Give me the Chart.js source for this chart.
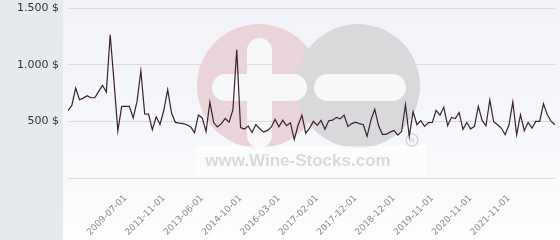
<!DOCTYPE html>
<html><head><meta charset="utf-8">
<script src="https://cdn.jsdelivr.net/npm/chart.js@4/dist/chart.umd.min.js"></script>
<style>
html,body{margin:0;padding:0;width:560px;height:240px;overflow:hidden;}
body{background:linear-gradient(to bottom,#f2f3f8 0%,#f6f7fa 55%,#fdfdfe 100%);position:relative;}
#panel{position:absolute;left:0;top:0;width:63px;height:240px;background:#e6eaed;}
#wrap{position:absolute;left:0;top:0;width:560px;height:240px;}
</style></head><body><div id="panel"></div><div id="wrap"><canvas id="c" width="560" height="240"></canvas></div>
<script>
const categories = [
 '2006-04-01','2006-07-01','2006-10-01','2007-01-01','2007-03-01','2007-05-01','2007-07-01','2007-09-01','2007-11-01','2008-01-01',
 '2008-04-01','2008-07-01','2008-10-01','2009-01-01','2009-04-01','2009-07-01','2009-10-01','2010-01-01','2010-04-01','2010-06-01',
 '2010-09-01','2010-12-01','2011-03-01','2011-06-01','2011-09-01','2011-11-01','2012-01-01','2012-03-01','2012-05-01','2012-07-01',
 '2012-09-01','2012-11-01','2013-01-01','2013-03-01','2013-05-01','2013-06-01','2013-08-01','2013-10-01','2013-12-01','2014-01-01',
 '2014-03-01','2014-05-01','2014-06-01','2014-08-01','2014-09-01','2014-10-01','2014-12-01','2015-02-01','2015-04-01','2015-05-01',
 '2015-07-01','2015-09-01','2015-10-01','2015-12-01','2016-01-01','2016-03-01','2016-04-01','2016-05-01','2016-06-01','2016-07-01',
 '2016-08-01','2016-09-01','2016-10-01','2016-11-01','2017-01-01','2017-02-01','2017-03-01','2017-04-01','2017-05-01','2017-06-01',
 '2017-07-01','2017-08-01','2017-09-01','2017-10-01','2017-11-01','2017-12-01','2018-01-01','2018-02-01','2018-03-01','2018-05-01',
 '2018-06-01','2018-07-01','2018-09-01','2018-10-01','2018-11-01','2018-12-01','2019-01-01','2019-02-01','2019-03-01','2019-04-01',
 '2019-05-01','2019-06-01','2019-08-01','2019-09-01','2019-10-01','2019-11-01','2019-12-01','2020-01-01','2020-02-01','2020-04-01',
 '2020-05-01','2020-06-01','2020-08-01','2020-09-01','2020-10-01','2020-11-01','2020-12-01','2021-01-01','2021-02-01','2021-04-01',
 '2021-05-01','2021-06-01','2021-08-01','2021-09-01','2021-10-01','2021-11-01','2021-12-01','2022-01-01','2022-02-01','2022-03-01',
 '2022-04-01','2022-05-01','2022-06-01','2022-07-01','2022-08-01','2022-09-01','2022-10-01','2022-11-01'
];
const prices = [
 594,640,794,690,705,726,708,708,764,817,
 758,1264,850,415,632,632,632,529,676,946,
 566,564,426,540,472,600,779,573,491,485,
 480,470,450,400,555,530,410,670,487,450,
 480,525,493,600,1132,445,432,458,402,472,
 435,405,420,448,517,452,510,462,488,340,
 465,555,395,440,500,465,508,430,505,510,
 535,522,555,455,480,492,480,470,368,512,
 606,460,385,385,405,420,378,410,646,367,
 585,470,506,455,488,490,596,555,624,463,
 535,525,577,430,490,434,455,632,508,461,
 688,500,470,441,382,470,670,382,558,417,
 491,441,500,500,655,558,500,470
];
const shownTickLabels = ['2009-07-01','2011-11-01','2013-06-01','2014-10-01','2016-03-01','2017-02-01','2017-12-01','2018-12-01','2019-11-01','2020-11-01','2021-11-01'];
const yTickValues = [0, 500, 1000, 1500];
const currency = '$';

function fmtPrice(v){
  if (v === 0) return '';
  const s = String(Math.round(v)).replace(/\B(?=(\d{3})+(?!\d))/g, '.');
  return s + ' ' + currency;
}

const watermark = {
  id: 'watermark',
  beforeDraw(chart){
    const ctx = chart.ctx;
    ctx.save();
    ctx.fillStyle = '#ead3d9';
    ctx.beginPath(); ctx.arc(259, 86, 62, 0, Math.PI*2); ctx.fill();
    ctx.fillStyle = '#d9d9db';
    ctx.beginPath(); ctx.arc(358, 86, 62, 0, Math.PI*2); ctx.fill();
    ctx.fillStyle = '#f8f8fb';
    const rr = (x,y,w,h,r)=>{ctx.beginPath();ctx.roundRect(x,y,w,h,r);ctx.fill();};
    rr(247, 38, 25, 110, 12.5);
    rr(212, 74, 95, 27, 13.5);
    rr(314, 74, 92, 27, 13.5);
    ctx.fillStyle = 'rgba(255,255,255,0.55)';
    ctx.fillRect(196, 146, 230, 30);
    ctx.fillStyle = '#dadadc';
    ctx.font = 'bold 17px "Liberation Sans", Arial, sans-serif';
    ctx.textAlign = 'center'; ctx.textBaseline = 'middle';
    ctx.fillText('www.Wine-Stocks.com', 298, 161);
    ctx.strokeStyle = '#d6d6d8'; ctx.lineWidth = 1.5;
    ctx.beginPath(); ctx.arc(412, 140, 6, 0, Math.PI*2); ctx.stroke();
    ctx.fillStyle = '#d6d6d8';
    ctx.font = 'bold 8px "Liberation Sans", Arial, sans-serif';
    ctx.fillText('R', 412, 140.5);
    ctx.restore();
  }
};

new Chart(document.getElementById('c'), {
  type: 'line',
  data: {
    labels: categories,
    datasets: [{
      data: prices,
      borderColor: '#3b2130',
      borderWidth: 1.2,
      pointRadius: 0,
      tension: 0,
      fill: false
    }]
  },
  options: {
    responsive: false,
    animation: false,
    layout: { padding: { top: 8, right: 5, left: 0, bottom: 0 } },
    plugins: { legend: { display: false }, tooltip: { enabled: false } },
    scales: {
      x: {
        type: 'category',
        offset: false,
        grid: { display: false },
        border: { display: false },
        ticks: {
          autoSkip: false,
          minRotation: 45, maxRotation: 45,
          color: '#8a8a8a',
          font: { family: 'DejaVu Sans', size: 9 },
          padding: 7,
          callback: (v, i) => shownTickLabels.includes(categories[i]) ? categories[i] : ''
        },
        afterFit: s => { s.height = 62; s.paddingLeft = 0; s.paddingRight = 0; }
      },
      y: {
        min: yTickValues[0], max: yTickValues[yTickValues.length-1],
        afterBuildTicks: s => { s.ticks = yTickValues.map(v => ({ value: v })); },
        grid: { color: '#dcdcdf', drawTicks: false, lineWidth: 1 },
        border: { display: false },
        ticks: {
          color: '#333333',
          font: { family: 'DejaVu Sans', size: 11 },
          padding: 9,
          callback: v => fmtPrice(v)
        },
        afterFit: s => { s.width = 68; s.paddingTop = 0; s.paddingBottom = 0; }
      }
    }
  },
  plugins: [watermark]
});
</script>
</body></html>
